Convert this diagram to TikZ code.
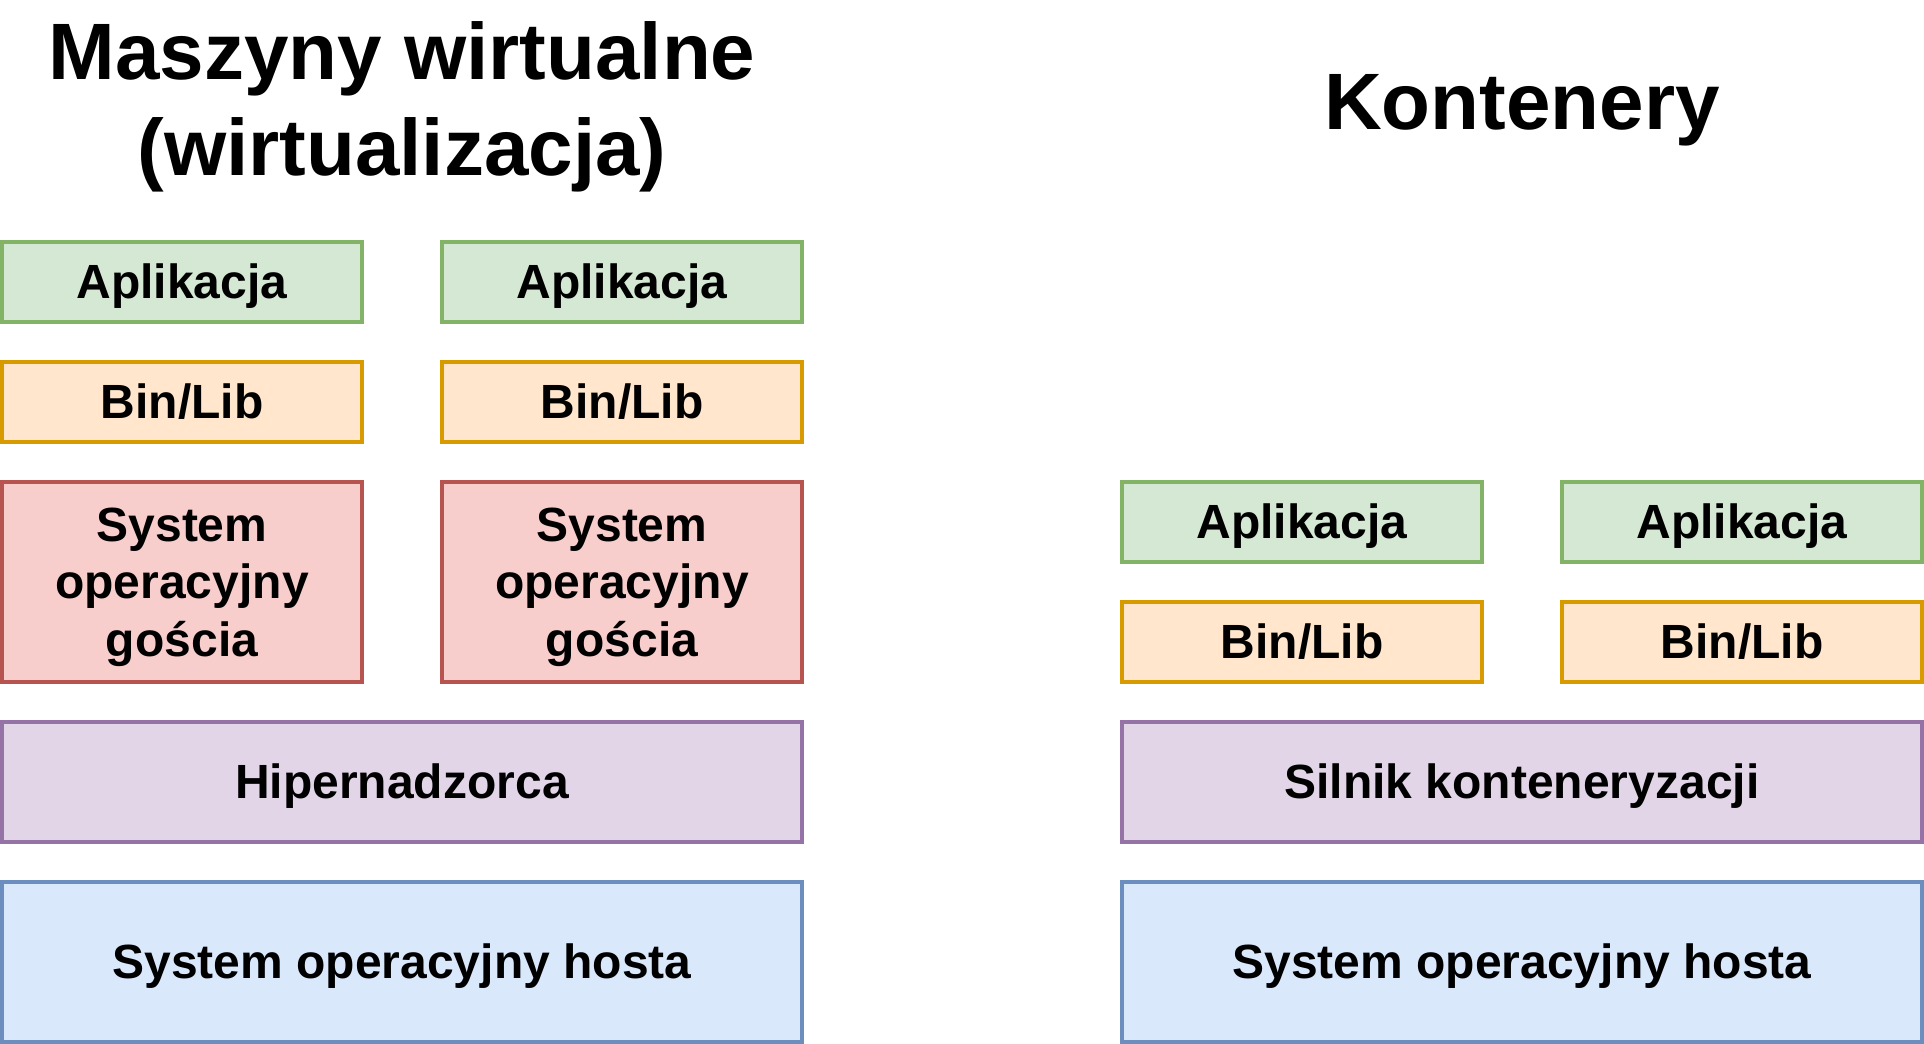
\documentclass[tikz,border=0pt]{standalone}
\usepackage{fontspec}
\setmainfont{Liberation Sans}
\usepackage{xcolor}
\usepackage{tikz}
\usetikzlibrary{positioning}

\definecolor{appFill}{HTML}{D5E8D4}\definecolor{appLine}{HTML}{82B366}
\definecolor{libFill}{HTML}{FFE6CC}\definecolor{libLine}{HTML}{D79B00}
\definecolor{osFill}{HTML}{F8CECC}\definecolor{osLine}{HTML}{B85450}
\definecolor{engFill}{HTML}{E1D5E7}\definecolor{engLine}{HTML}{9673A6}
\definecolor{hostFill}{HTML}{DAE8FC}\definecolor{hostLine}{HTML}{6C8EBF}

% struts giving every line the ascent and descent of the font
\newcommand{\topstrut}{\rule{0pt}{0.905em}}
\newcommand{\botstrut}{\rule[-0.212em]{0pt}{0.212em}}

\begin{document}
\begin{tikzpicture}[
  x=1pt, y=1pt,
  layer/.style={align=center, line width=2pt, inner sep=0pt, outer sep=0pt,
    font=\fontsize{24}{28.8}\selectfont\bfseries},
  app/.style={layer, draw=appLine, fill=appFill, minimum width=180pt, minimum height=40pt},
  lib/.style={layer, draw=libLine, fill=libFill, minimum width=180pt, minimum height=40pt},
  guest/.style={layer, draw=osLine, fill=osFill, minimum width=180pt, minimum height=100pt},
  engine/.style={layer, draw=engLine, fill=engFill, minimum width=400pt, minimum height=60pt},
  host/.style={layer, draw=hostLine, fill=hostFill, minimum width=400pt, minimum height=80pt},
  heading/.style={align=center, font=\fontsize{40}{48}\selectfont\bfseries}
]
  \useasboundingbox (0,0) rectangle (962,-522);

  % Virtual machines (left)
  \node[host, anchor=north west] (hostvm) at (1,-441) {\topstrut System operacyjny hosta\botstrut};
  \node[engine, above=20pt of hostvm] (hyper) {\topstrut Hipernadzorca\botstrut};
  \node[guest, above right=20pt and 0pt of hyper.north west] (guestA) {\topstrut System\\operacyjny\\gościa\botstrut};
  \node[guest, above left=20pt and 0pt of hyper.north east] (guestB) {\topstrut System\\operacyjny\\gościa\botstrut};
  \node[lib, above=20pt of guestA] (libA) {\topstrut Bin/Lib\botstrut};
  \node[lib, above=20pt of guestB] (libB) {\topstrut Bin/Lib\botstrut};
  \node[app, above=20pt of libA] (appA) {\topstrut Aplikacja\botstrut};
  \node[app, above=20pt of libB] (appB) {\topstrut Aplikacja\botstrut};
  \node[heading] (vmtitle) at (201,-50) {\topstrut Maszyny wirtualne\\(wirtualizacja)\botstrut};

  % Containers (right)
  \node[host, right=160pt of hostvm] (hostct) {\topstrut System operacyjny hosta\botstrut};
  \node[engine, above=20pt of hostct] (ctengine) {\topstrut Silnik konteneryzacji\botstrut};
  \node[lib, above right=20pt and 0pt of ctengine.north west] (libC) {\topstrut Bin/Lib\botstrut};
  \node[lib, above left=20pt and 0pt of ctengine.north east] (libD) {\topstrut Bin/Lib\botstrut};
  \node[app, above=20pt of libC] (appC) {\topstrut Aplikacja\botstrut};
  \node[app, above=20pt of libD] (appD) {\topstrut Aplikacja\botstrut};
  \node[heading] (cttitle) at (761,-51) {\topstrut Kontenery\botstrut};

\end{tikzpicture}
\end{document}
